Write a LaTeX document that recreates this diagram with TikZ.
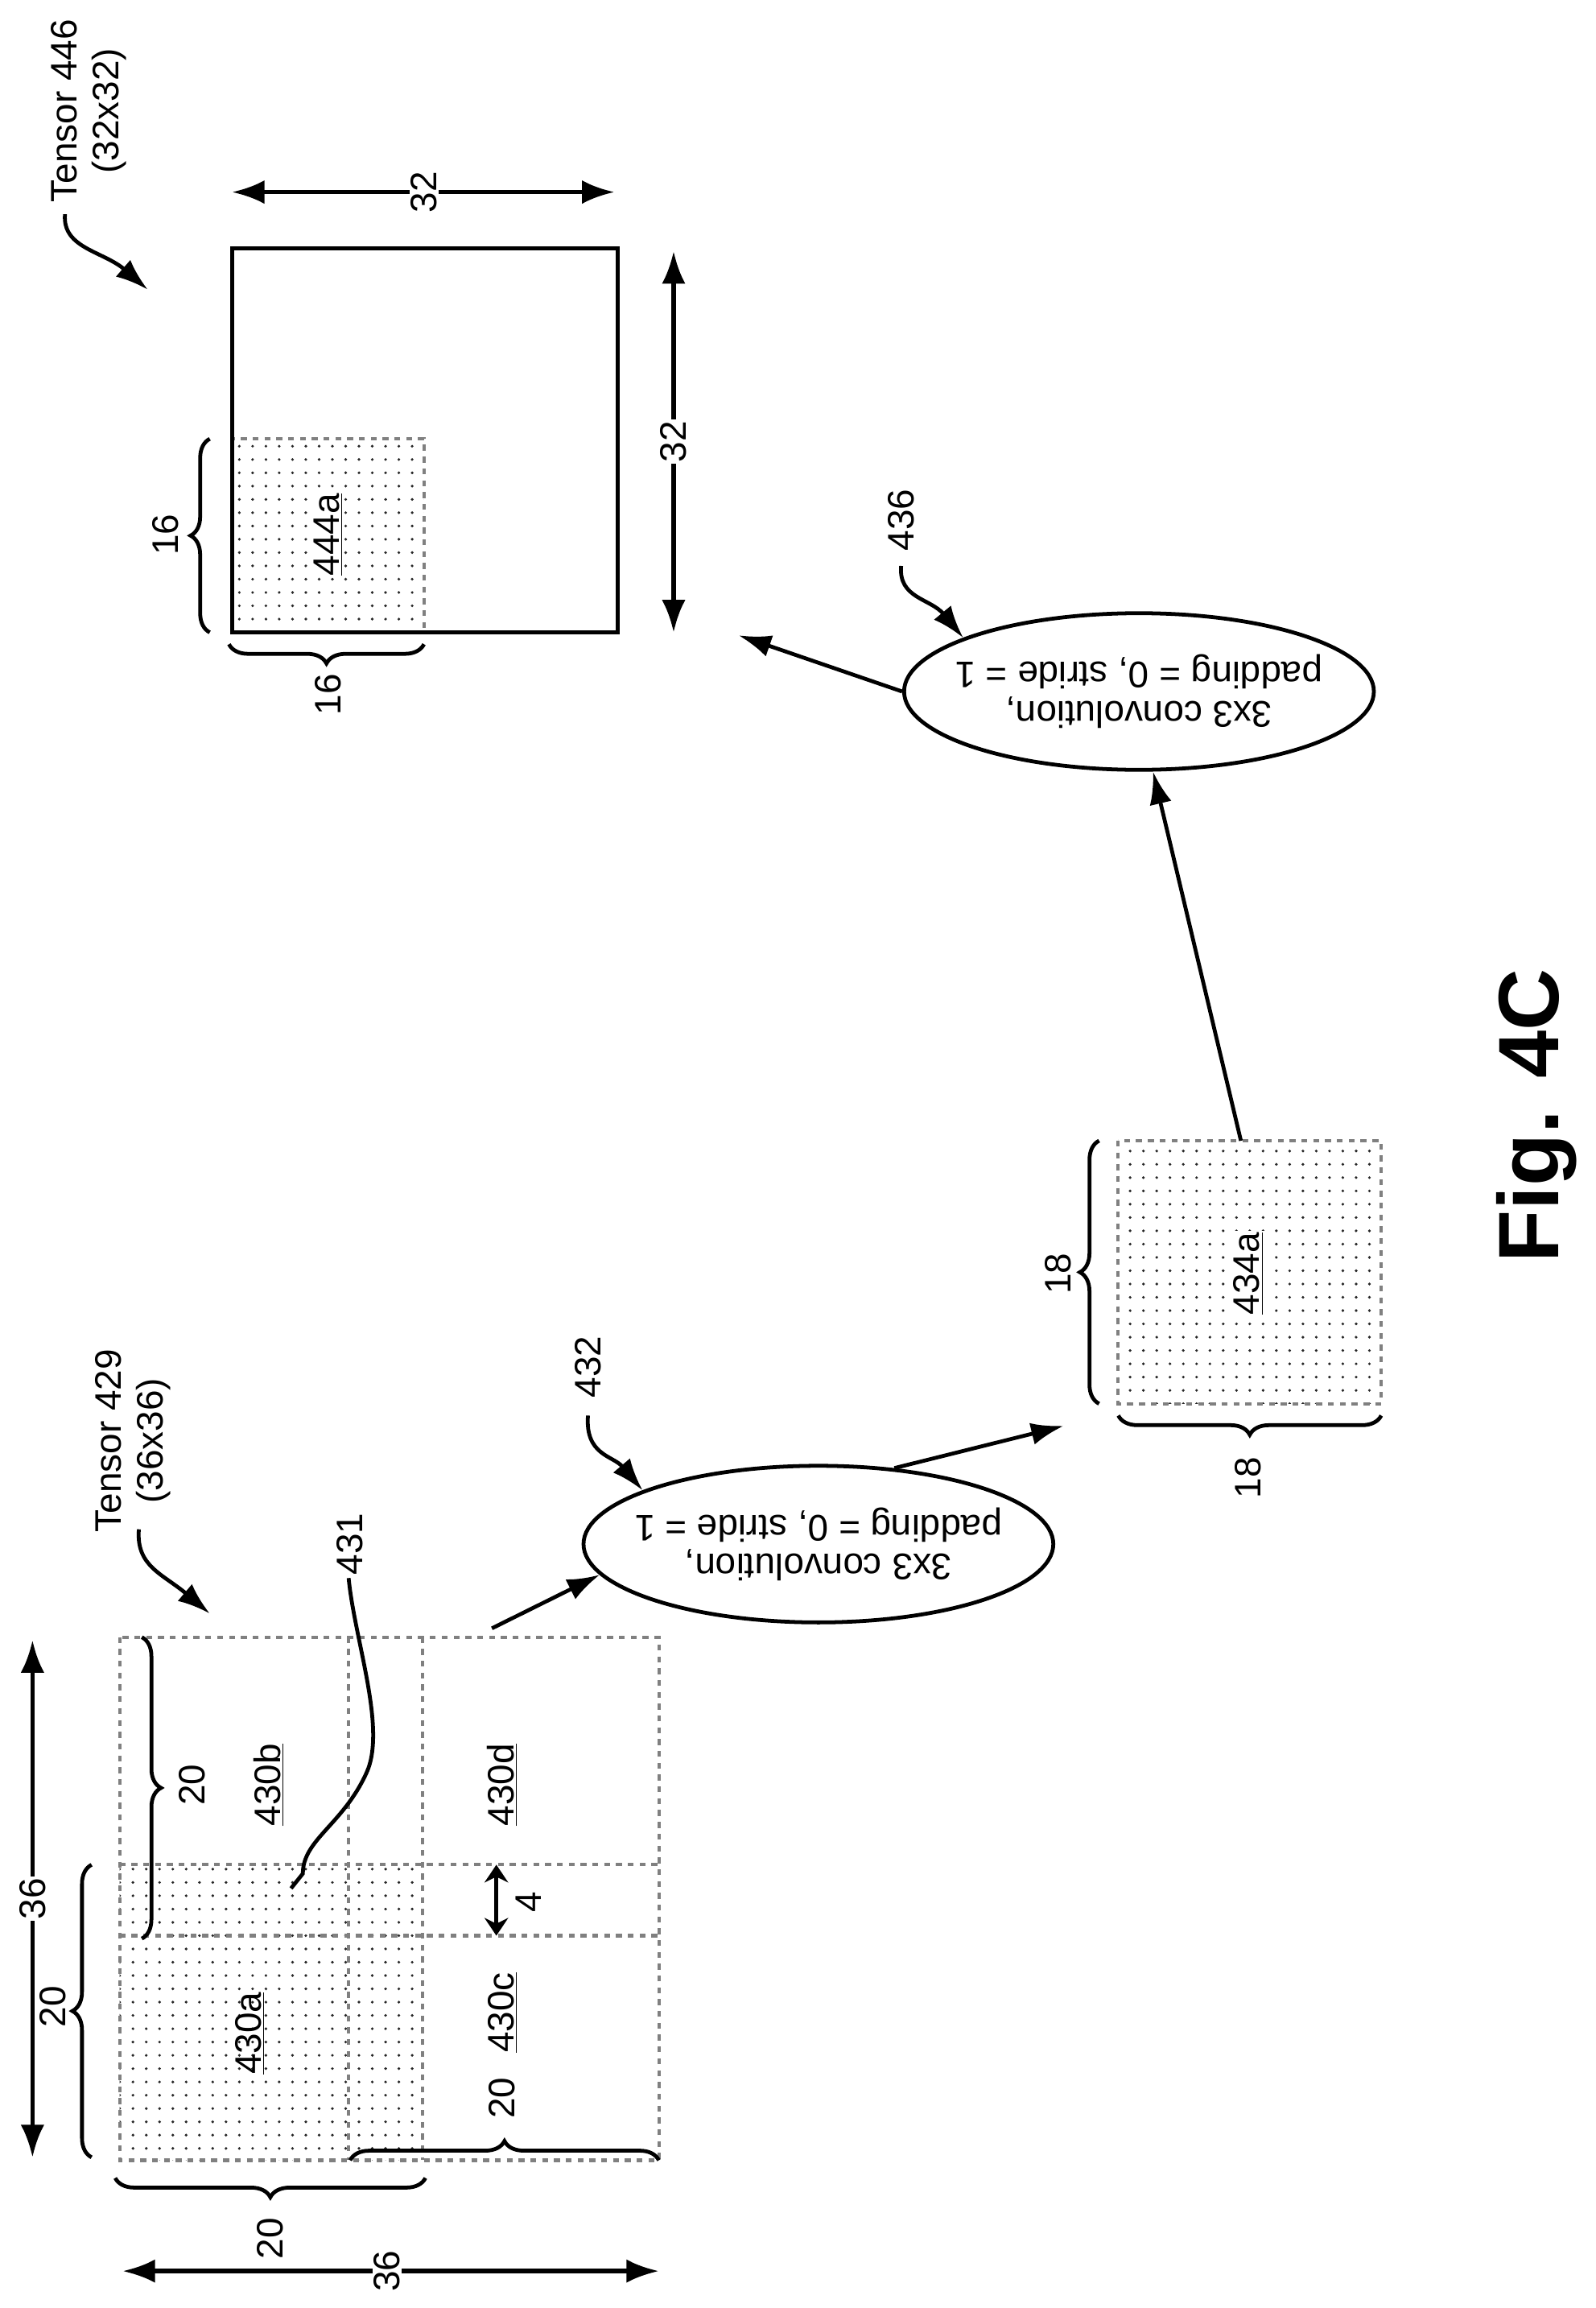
\documentclass[tikz,border=0pt]{standalone}
\usepackage{fontspec}
\setmainfont{Liberation Sans}
\usetikzlibrary{shapes.geometric,arrows.meta,decorations.pathreplacing,patterns.meta}
\begin{document}
\begin{tikzpicture}[x=1pt,y=-1pt,
  lbl/.style={font=\fontsize{25}{28}\selectfont,rotate=90,inner sep=1pt},
  dsh/.style={draw=black!50,line width=2.2pt,dash pattern=on 4pt off 4pt},
  dotfill/.style={pattern={Dots[distance=9pt,radius=1pt]},pattern color=black!85},
  br/.style={decorate,decoration={brace,amplitude=13pt},line width=2.6pt},
  dim/.style={{Latex[length=22pt,width=16pt]}-{Latex[length=22pt,width=16pt]},line width=3pt},
  arr/.style={-{Latex[length=22pt,width=15pt]},line width=2.6pt},
  conv/.style={ellipse,draw,line width=2.6pt,rotate=180,minimum width=318pt,minimum height=106pt,font=\fontsize{25}{30}\selectfont,inner sep=0pt}]
\useasboundingbox (0,0) rectangle (1080,1562);
% ---------- Tensor 429 grid ----------
\fill[dotfill] (81,1262) rectangle (286,1462);
\draw[dsh] (81,1108) rectangle (446,1462);
\draw[dsh] (236,1108) -- (236,1462);
\draw[dsh] (286,1108) -- (286,1462);
\draw[dsh] (81,1262) -- (446,1262);
\draw[dsh] (81,1310) -- (446,1310);
\node[lbl] (a430a) at (169,1376) {\underline{430a}};
\node[lbl] (a430b) at (182,1208) {\underline{430b}};
\node[lbl] (a430c) at (340,1362) {\underline{430c}};
\node[lbl] (a430d) at (340,1208) {\underline{430d}};
\coordinate (g4a) at (336,1262); \coordinate (g4b) at (336,1310);
\draw[{Stealth[length=12pt,width=16pt]}-{Stealth[length=12pt,width=16pt]},line width=3pt] (g4a) -- (g4b);
\node[lbl] (l4) at (358,1287) {4};
% braces
\draw[br] (62,1460) -- (62,1262);
\node[lbl] (l20a) at (36,1358) {20};
\draw[br] (96,1108) -- (96,1312);
\node[lbl] (l20b) at (130,1208) {20};
\draw[br] (288,1474) -- (78,1474);
\node[lbl] (l20c) at (183,1515) {20};
\draw[br] (237,1462) -- (446,1462);
\node[lbl] (l20d) at (340,1420) {20};
% 36 arrows
\coordinate (d1a) at (22,1110); \coordinate (d1b) at (22,1460);
\draw[dim] (d1a) -- (d1b);
\node[lbl,fill=white] (l36a) at (22,1285) {36};
\coordinate (d2a) at (83,1537); \coordinate (d2b) at (446,1537);
\draw[dim] (d2a) -- (d2b);
\node[lbl,fill=white] (l36b) at (262,1537) {36};
% Tensor 429 label
\node[lbl,align=center] (t429) at (90,975) {Tensor 429\\(36x36)};
\coordinate (t429e) at (142,1092);
\draw[arr] (94,1035) .. controls (92,1060) and (110,1065) .. (t429e);
% 431
\node[lbl] (l431) at (237,1045) {431};
\coordinate (c431) at (197,1278);
\draw[line width=2.6pt] (236,1068) .. controls (240,1110) and (262,1170) .. (248,1200) .. controls (232,1235) and (205,1245) .. (205,1268) -- (c431);
% ---------- conv 432 ----------
\node[conv] (e432) at (554,1045) {\makebox[200pt][c]{\shortstack{3x3 convolution,\\[2pt]padding = 0, stride = 1}}};
\coordinate (s432) at (333,1102);
\draw[arr] (s432) -- (e432.8);
\node[lbl] (l432) at (398,925) {432};
\draw[arr] (398,958) .. controls (396,985) and (415,985) .. (e432.343);
% ---------- 434a ----------
\fill[dotfill] (757,772) rectangle (935,950);
\draw[dsh] (757,772) rectangle (935,950);
\node[lbl,fill=white] (a434a) at (845,862) {\underline{434a}};
\coordinate (p434) at (720,965);
\draw[arr] (e432.225) -- (p434);
\draw[br] (744,950) -- (744,772);
\node[lbl] (l18a) at (716,862) {18};
\draw[br] (935,958) -- (757,958);
\node[lbl] (l18b) at (845,1000) {18};
% ---------- conv 436 ----------
\node[conv] (e436) at (771,468) {\makebox[200pt][c]{\shortstack{3x3 convolution,\\[2pt]padding = 0, stride = 1}}};
\coordinate (t434) at (840,772);
\draw[arr] (t434) -- (e436.100);
\coordinate (p436) at (500,430);
\draw[arr] (e436.0) -- (p436);
\node[lbl] (l436) at (610,352) {436};
\draw[arr] (610,383) .. controls (608,405) and (630,405) .. (e436.343);
% ---------- Tensor 446 ----------
\fill[dotfill] (157,297) rectangle (287,428);
\draw[dsh] (157,297) rectangle (287,428);
\draw[line width=2.6pt] (157,168) rectangle (418,428);
\node[lbl,fill=white] (a444a) at (222,362) {\underline{444a}};
\draw[br] (142,428) -- (142,297);
\node[lbl] (l16a) at (112,362) {16};
\draw[br] (287,436) -- (155,436);
\node[lbl] (l16b) at (222,470) {16};
\coordinate (d3a) at (157,130); \coordinate (d3b) at (416,130);
\draw[dim] (d3a) -- (d3b);
\node[lbl,fill=white] (l32a) at (287,130) {32};
\coordinate (d4a) at (456,170); \coordinate (d4b) at (456,428);
\draw[dim] (d4a) -- (d4b);
\node[lbl,fill=white] (l32b) at (456,299) {32};
\node[lbl,align=center] (t446) at (60,75) {Tensor 446\\(32x32)};
\coordinate (t446e) at (100,196);
\draw[arr] (44,145) .. controls (42,168) and (70,170) .. (t446e);
% ---------- Fig ----------
\node[rotate=90,font=\fontsize{58}{60}\selectfont\bfseries] (fig) at (1040,755) {Fig. 4C};
\end{tikzpicture}
\end{document}
